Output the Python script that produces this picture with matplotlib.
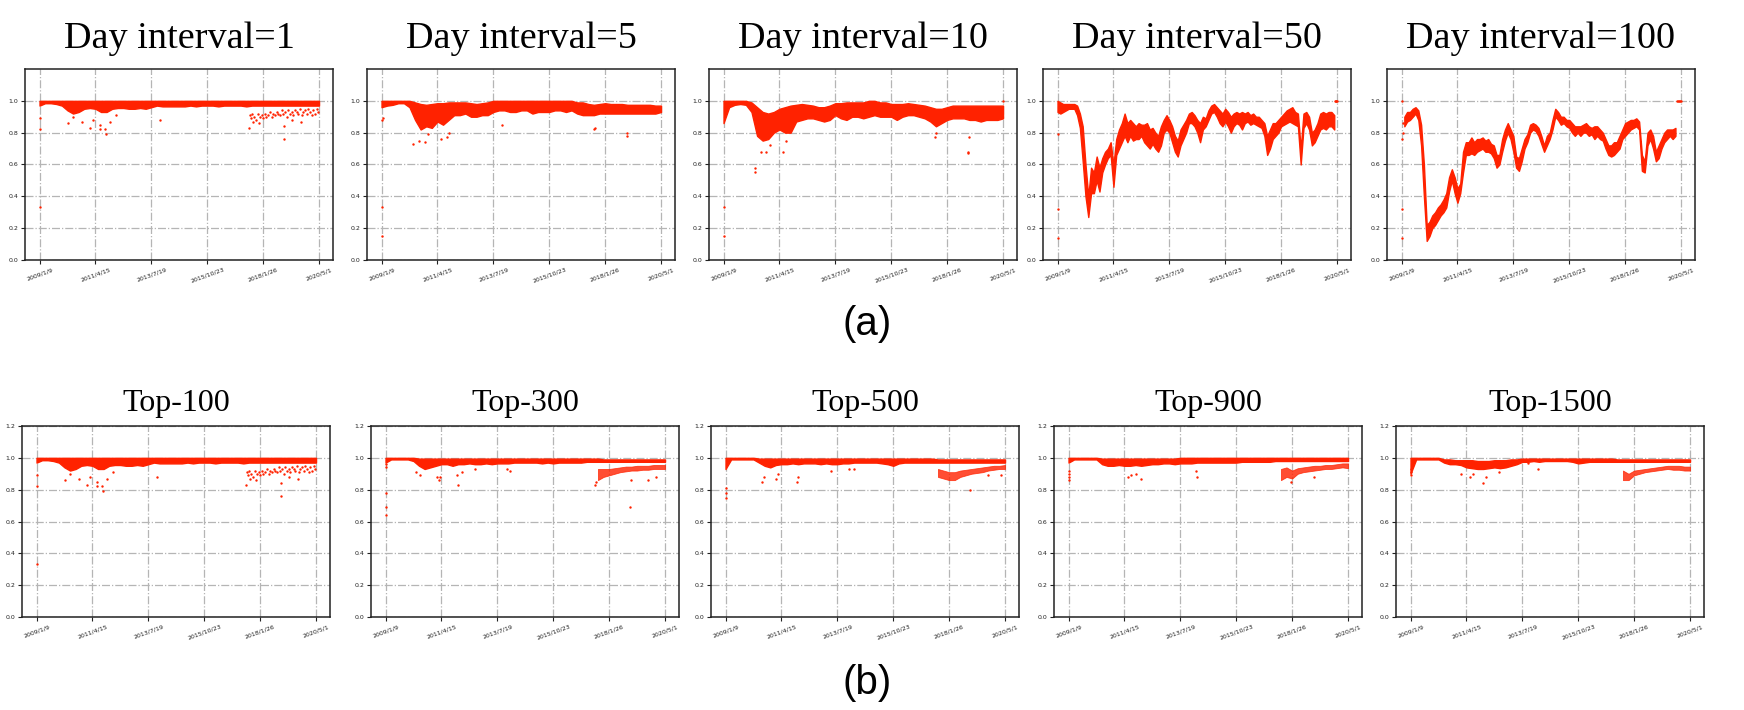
import numpy as np
import matplotlib.pyplot as plt

nan = np.nan
RED = '#ff2200'

# day index ticks and their dates
tick_pos = [0, 500, 1000, 1500, 2000, 2500]
tick_labels = ['2009/1/9', '2011/4/15', '2013/7/19', '2015/10/23', '2018/1/26', '2020/5/1']

x50 = np.arange(0, 2501, 50)
x25 = np.arange(0, 2501, 25)
cluster_x = np.arange(1900, 2501, 50)

# ---- Day interval=1 (also Top-100) ----
di1_hi = [1.0, 1.0, 1.0, 1.0, 1.0, 1.0, 1.0, 1.0, 1.0, 1.0,
          1.0, 1.0, 1.0, 1.0, 1.0, 1.0, 1.0, 1.0, 1.0, 1.0,
          1.0, 1.0, 1.0, 1.0, 1.0, 1.0, 1.0, 1.0, 1.0, 1.0,
          1.0, 1.0, 1.0, 1.0, 1.0, 1.0, 1.0, 1.0, 1.0, 1.0,
          1.0, 1.0, 1.0, 1.0, 1.0, 1.0, 1.0, 1.0, 1.0, 1.0,
          1.0]
di1_lo = [0.97, 0.985, 0.985, 0.98, 0.97, 0.94, 0.92, 0.93, 0.95, 0.955,
          0.95, 0.93, 0.93, 0.95, 0.955, 0.955, 0.95, 0.95, 0.955, 0.95,
          0.96, 0.97, 0.965, 0.965, 0.965, 0.965, 0.965, 0.97, 0.965, 0.97,
          0.97, 0.97, 0.965, 0.97, 0.97, 0.97, 0.97, 0.965, 0.97, 0.97,
          0.97, 0.97, 0.97, 0.97, 0.97, 0.97, 0.97, 0.97, 0.97, 0.97,
          0.97]
di1_px = [0, 0, 0, 256, 300, 380, 449, 479, 538, 538, 583, 592, 627, 681, 1082,
          1876, 2188, 2188, 2262, 2337,
          1880, 1890, 1900, 1910, 1920, 1935, 1950, 1960, 1975, 1990,
          2000, 2015, 2030, 2045, 2060, 2075, 2090, 2105, 2120, 2135,
          2150, 2165, 2180, 2195, 2210, 2225, 2240, 2255, 2270, 2285,
          2300, 2315, 2330, 2345, 2360, 2375, 2390, 2405, 2420, 2435,
          2450, 2465, 2480, 2495]
di1_py = [0.89, 0.82, 0.33, 0.86, 0.90, 0.87, 0.83, 0.88, 0.85, 0.82, 0.82, 0.79, 0.87, 0.91, 0.88,
          0.83, 0.84, 0.76, 0.88, 0.87,
          0.91, 0.89, 0.92, 0.87, 0.90, 0.88, 0.92, 0.86, 0.90, 0.91,
          0.89, 0.92, 0.90, 0.91, 0.93, 0.90, 0.92, 0.91, 0.93, 0.92,
          0.91, 0.94, 0.92, 0.93, 0.90, 0.94, 0.92, 0.93, 0.91, 0.94,
          0.93, 0.92, 0.95, 0.91, 0.93, 0.94, 0.92, 0.95, 0.93, 0.91,
          0.94, 0.92, 0.95, 0.93]

# ---- Day interval=5 ----
di5_hi = [1.0, 1.0, 1.0, 1.0, 1.0, 1.0, 0.99, 0.98, 0.975, 0.98,
          0.985, 0.985, 0.99, 0.99, 0.99, 0.99, 0.985, 0.98, 0.985, 0.99,
          1.0, 1.0, 1.0, 1.0, 1.0, 1.0, 1.0, 1.0, 1.0, 1.0,
          1.0, 1.0, 1.0, 1.0, 1.0, 0.99, 0.99, 0.98, 0.975, 0.98,
          0.985, 0.98, 0.98, 0.98, 0.975, 0.975, 0.975, 0.975, 0.975, 0.97,
          0.97]
di5_lo = [0.96, 0.97, 0.975, 0.985, 0.985, 0.96, 0.88, 0.82, 0.84, 0.83,
          0.87, 0.85, 0.88, 0.91, 0.91, 0.92, 0.90, 0.90, 0.91, 0.91,
          0.93, 0.94, 0.94, 0.93, 0.93, 0.94, 0.94, 0.92, 0.93, 0.93,
          0.93, 0.94, 0.94, 0.93, 0.94, 0.92, 0.91, 0.91, 0.91, 0.92,
          0.92, 0.92, 0.92, 0.92, 0.92, 0.92, 0.92, 0.92, 0.92, 0.92,
          0.93]
di5_px = [0, 0, 5, 10, 283, 333, 387, 420, 536, 589, 600, 1080, 1899, 1905, 2193, 2193]
di5_py = [0.33, 0.15, 0.88, 0.89, 0.73, 0.75, 0.74, 0.79, 0.76, 0.77, 0.80, 0.85, 0.82, 0.83, 0.78, 0.80]

# ---- Day interval=10 ----
di10_hi = [1.0, 1.0, 1.0, 1.0, 1.0, 0.99, 0.96, 0.93, 0.92, 0.93,
           0.95, 0.96, 0.97, 0.975, 0.98, 0.975, 0.97, 0.96, 0.96, 0.97,
           0.985, 0.985, 0.99, 0.99, 0.99, 0.99, 1.0, 1.0, 0.99, 0.99,
           0.98, 0.98, 0.98, 0.985, 0.98, 0.975, 0.97, 0.96, 0.95, 0.95,
           0.96, 0.97, 0.97, 0.97, 0.97, 0.97, 0.97, 0.97, 0.97, 0.97,
           0.97]
di10_lo = [0.86, 0.96, 0.975, 0.98, 0.975, 0.93, 0.78, 0.75, 0.76, 0.80,
           0.82, 0.80, 0.80, 0.87, 0.88, 0.89, 0.89, 0.88, 0.87, 0.88,
           0.91, 0.89, 0.88, 0.90, 0.90, 0.89, 0.90, 0.91, 0.90, 0.90,
           0.90, 0.88, 0.90, 0.91, 0.91, 0.90, 0.89, 0.87, 0.84, 0.86,
           0.88, 0.89, 0.89, 0.89, 0.88, 0.88, 0.87, 0.88, 0.88, 0.88,
           0.89]
di10_px = [0, 0, 277, 280, 333, 381, 420, 536, 560, 1893, 1900, 2188, 2190, 2195, 2500]
di10_py = [0.33, 0.15, 0.55, 0.58, 0.68, 0.68, 0.72, 0.68, 0.75, 0.77, 0.80, 0.67, 0.68, 0.77, 1.0]

# ---- Day interval=50 (25-day samples) ----
di50_hi = [1.0, 0.99, 0.98, 0.98, 0.98, 0.98, 0.98, 0.97, 0.92, 0.84,
           0.60, 0.40, 0.58, 0.55, 0.65, 0.58, 0.64, 0.68, 0.70, 0.74,
           0.60, 0.76, 0.82, 0.86, 0.92, 0.86, 0.88, 0.86, 0.84, 0.86,
           0.85, 0.85, 0.86, 0.82, 0.83, 0.80, 0.78, 0.84, 0.88, 0.91,
           0.88, 0.84, 0.78, 0.75, 0.82, 0.85, 0.88, 0.92, 0.93, 0.91,
           0.88, 0.86, 0.90, 0.89, 0.94, 0.97, 0.98, 0.96, 0.94, 0.92,
           0.95, 0.93, 0.90, 0.92, 0.93, 0.92, 0.93, 0.92, 0.93, 0.91,
           0.92, 0.90, 0.90, 0.88, 0.86, 0.78, 0.82, 0.86, 0.86, 0.88,
           0.90, 0.92, 0.94, 0.95, 0.96, 0.93, 0.92, 0.70, 0.92, 0.93,
           0.90, 0.80, 0.82, 0.86, 0.92, 0.93, 0.92, 0.93, 0.93, 0.91,
           nan]
di50_lo = [0.93, 0.92, 0.93, 0.94, 0.95, 0.95, 0.95, 0.91, 0.83, 0.62,
           0.40, 0.27, 0.42, 0.42, 0.50, 0.43, 0.55, 0.60, 0.64, 0.66,
           0.46, 0.66, 0.70, 0.74, 0.78, 0.74, 0.78, 0.75, 0.76, 0.76,
           0.78, 0.74, 0.72, 0.70, 0.73, 0.70, 0.68, 0.72, 0.80, 0.82,
           0.80, 0.74, 0.68, 0.65, 0.72, 0.76, 0.80, 0.86, 0.86, 0.84,
           0.80, 0.74, 0.82, 0.84, 0.88, 0.92, 0.93, 0.90, 0.86, 0.84,
           0.87, 0.84, 0.80, 0.84, 0.86, 0.85, 0.82, 0.86, 0.87, 0.85,
           0.86, 0.85, 0.84, 0.83, 0.78, 0.66, 0.70, 0.76, 0.78, 0.80,
           0.84, 0.85, 0.86, 0.87, 0.86, 0.85, 0.84, 0.60, 0.83, 0.86,
           0.82, 0.72, 0.74, 0.78, 0.82, 0.83, 0.82, 0.84, 0.84, 0.82,
           nan]
di50_px = [0, 0, 0, 2485, 2490, 2495, 2500]
di50_py = [0.79, 0.32, 0.14, 1.0, 1.0, 1.0, 1.0]

# ---- Day interval=100 (25-day samples) ----
di100_hi = [nan, 0.90, 0.93, 0.93, 0.95, 0.96, 0.94, 0.85, 0.60, 0.22,
            0.24, 0.28, 0.30, 0.33, 0.35, 0.38, 0.42, 0.52, 0.57, 0.52,
            0.45, 0.48, 0.68, 0.74, 0.74, 0.77, 0.74, 0.76, 0.76, 0.77,
            0.75, 0.76, 0.73, 0.72, 0.66, 0.66, 0.76, 0.82, 0.86, 0.82,
            0.78, 0.65, 0.64, 0.70, 0.76, 0.79, 0.85, 0.86, 0.85, 0.83,
            0.78, 0.72, 0.78, 0.80, 0.88, 0.95, 0.93, 0.90, 0.90, 0.88,
            0.88, 0.86, 0.84, 0.84, 0.84, 0.85, 0.86, 0.84, 0.83, 0.84,
            0.84, 0.82, 0.80, 0.76, 0.72, 0.72, 0.74, 0.74, 0.78, 0.82,
            0.86, 0.87, 0.88, 0.88, 0.89, 0.87, 0.66, 0.62, 0.80, 0.82,
            0.78, 0.68, 0.72, 0.76, 0.80, 0.82, 0.82, 0.82, 0.83, nan,
            nan]
di100_lo = [nan, 0.84, 0.87, 0.88, 0.90, 0.92, 0.88, 0.72, 0.40, 0.12,
            0.15, 0.20, 0.22, 0.25, 0.28, 0.30, 0.33, 0.43, 0.50, 0.42,
            0.36, 0.42, 0.55, 0.66, 0.66, 0.67, 0.66, 0.68, 0.69, 0.70,
            0.68, 0.68, 0.67, 0.64, 0.58, 0.60, 0.68, 0.75, 0.80, 0.76,
            0.68, 0.58, 0.56, 0.62, 0.70, 0.74, 0.80, 0.82, 0.81, 0.78,
            0.73, 0.68, 0.72, 0.76, 0.82, 0.90, 0.88, 0.85, 0.86, 0.84,
            0.83, 0.80, 0.78, 0.80, 0.78, 0.80, 0.80, 0.78, 0.79, 0.76,
            0.78, 0.76, 0.75, 0.70, 0.66, 0.65, 0.66, 0.68, 0.70, 0.76,
            0.78, 0.80, 0.82, 0.83, 0.84, 0.82, 0.56, 0.55, 0.72, 0.76,
            0.70, 0.62, 0.64, 0.70, 0.74, 0.76, 0.78, 0.76, 0.78, nan,
            nan]
di100_px = [0, 0, 0, 5, 10, 15, 2460, 2470, 2480, 2490, 2500]
di100_py = [1.0, 0.32, 0.14, 0.76, 0.80, 0.86, 1.0, 1.0, 1.0, 1.0, 1.0]

# ---- Top-300 ----
top300_hi = [1.0, 1.0, 1.0, 1.0, 1.0, 1.0, 0.995, 0.995, 0.995, 0.995,
             0.995, 0.995, 0.995, 0.995, 0.995, 0.995, 0.995, 0.995, 0.995, 0.995,
             0.995, 0.995, 0.995, 0.995, 0.995, 0.995, 0.995, 0.995, 0.995, 0.995,
             0.995, 0.995, 0.995, 0.995, 0.995, 0.995, 0.995, 0.995, 0.995, 0.99,
             0.99, 0.99, 0.99, 0.99, 0.99, 0.99, 0.99, 0.99, 0.99, 0.99,
             0.99]
top300_lo = [0.97, 0.99, 0.99, 0.99, 0.99, 0.98, 0.95, 0.93, 0.94, 0.95,
             0.96, 0.96, 0.95, 0.96, 0.96, 0.965, 0.96, 0.96, 0.965, 0.96,
             0.965, 0.965, 0.965, 0.97, 0.97, 0.97, 0.97, 0.97, 0.965, 0.97,
             0.965, 0.97, 0.97, 0.97, 0.97, 0.97, 0.975, 0.975, 0.975, 0.975,
             0.975, 0.975, 0.975, 0.975, 0.975, 0.975, 0.975, 0.975, 0.975, 0.975,
             0.975]
top300_clo = [0.86, 0.88, 0.89, 0.90, 0.91, 0.915, 0.92, 0.92, 0.925, 0.925, 0.93, 0.93, 0.93]
top300_chi = [0.93, 0.93, 0.93, 0.935, 0.94, 0.945, 0.945, 0.95, 0.95, 0.95, 0.955, 0.955, 0.955]
top300_px = [0, 0, 0, 5, 5, 270, 312, 461, 476, 490, 640, 645, 685, 800, 1090, 1110,
             1875, 1880, 2187, 2193, 2350, 2420]
top300_py = [0.64, 0.69, 0.78, 0.94, 0.96, 0.91, 0.89, 0.88, 0.86, 0.88, 0.89, 0.83, 0.91, 0.93, 0.93, 0.92,
             0.83, 0.85, 0.69, 0.86, 0.86, 0.88]

# ---- Top-500 ----
top500_hi = [1.0, 1.0, 1.0, 1.0, 1.0, 1.0, 0.995, 0.995, 0.995, 0.995,
             0.995, 0.995, 0.995, 0.995, 0.995, 0.995, 0.995, 0.995, 0.995, 0.995,
             0.995, 0.995, 0.995, 0.995, 0.995, 0.995, 0.995, 0.995, 0.995, 0.995,
             0.995, 0.995, 0.995, 0.995, 0.995, 0.995, 0.995, 0.995, 0.99, 0.99,
             0.99, 0.99, 0.99, 0.99, 0.99, 0.99, 0.99, 0.99, 0.99, 0.99,
             0.99]
top500_lo = [0.93, 0.99, 0.99, 0.99, 0.99, 0.99, 0.97, 0.95, 0.94, 0.955,
             0.96, 0.96, 0.965, 0.96, 0.965, 0.965, 0.965, 0.96, 0.965, 0.96,
             0.96, 0.965, 0.965, 0.97, 0.97, 0.97, 0.97, 0.97, 0.965, 0.96,
             0.95, 0.965, 0.97, 0.97, 0.97, 0.97, 0.97, 0.97, 0.97, 0.97,
             0.97, 0.97, 0.97, 0.97, 0.97, 0.97, 0.97, 0.97, 0.97, 0.97,
             0.97]
top500_clo = [0.88, 0.87, 0.86, 0.86, 0.88, 0.89, 0.90, 0.905, 0.91, 0.92, 0.925, 0.93, 0.93]
top500_chi = [0.93, 0.92, 0.91, 0.91, 0.92, 0.925, 0.93, 0.935, 0.94, 0.945, 0.95, 0.95, 0.955]
top500_px = [0, 0, 0, 330, 340, 447, 470, 642, 650, 943, 1100, 1150, 2191, 2344, 2465]
top500_py = [0.81, 0.78, 0.75, 0.85, 0.88, 0.87, 0.90, 0.85, 0.88, 0.92, 0.93, 0.93, 0.80, 0.89, 0.89]

# ---- Top-900 ----
top900_hi = [1.0, 1.0, 1.0, 1.0, 1.0, 1.0, 0.995, 0.995, 0.995, 0.995,
             0.995, 0.995, 0.995, 0.995, 0.995, 0.995, 0.995, 0.995, 0.995, 0.995,
             1.0, 1.0, 1.0, 1.0, 1.0, 1.0, 1.0, 1.0, 1.0, 1.0,
             1.0, 1.0, 1.0, 1.0, 1.0, 1.0, 1.0, 1.0, 1.0, 1.0,
             1.0, 1.0, 1.0, 1.0, 1.0, 1.0, 1.0, 1.0, 1.0, 1.0,
             1.0]
top900_lo = [0.97, 0.99, 0.99, 0.99, 0.99, 0.99, 0.96, 0.95, 0.95, 0.955,
             0.95, 0.95, 0.955, 0.95, 0.955, 0.96, 0.96, 0.965, 0.965, 0.96,
             0.965, 0.965, 0.965, 0.97, 0.97, 0.97, 0.97, 0.97, 0.97, 0.97,
             0.97, 0.975, 0.975, 0.975, 0.975, 0.975, 0.975, 0.98, 0.98, 0.98,
             0.98, 0.98, 0.98, 0.98, 0.98, 0.98, 0.98, 0.98, 0.98, 0.98,
             0.98]
top900_clo = [0.86, 0.88, 0.87, 0.90, 0.91, 0.915, 0.92, 0.925, 0.93, 0.93, 0.935, 0.94, 0.935]
top900_chi = [0.93, 0.94, 0.92, 0.935, 0.94, 0.945, 0.95, 0.95, 0.955, 0.955, 0.96, 0.965, 0.965]
top900_px = [0, 0, 0, 0, 532, 557, 600, 649, 1142, 1149, 1990, 2195]
top900_py = [0.86, 0.88, 0.90, 0.92, 0.88, 0.89, 0.90, 0.87, 0.92, 0.88, 0.85, 0.88]

# ---- Top-1500 ----
top1500_hi = [1.0, 1.0, 1.0, 1.0, 1.0, 1.0, 0.99, 0.99, 0.985, 0.985,
              0.985, 0.985, 0.98, 0.98, 0.98, 0.985, 0.985, 0.985, 0.99, 0.99,
              0.995, 0.995, 0.995, 0.995, 0.995, 0.995, 0.995, 0.995, 0.995, 0.995,
              0.995, 0.995, 0.995, 0.995, 0.995, 0.995, 0.995, 0.99, 0.99, 0.99,
              0.99, 0.99, 0.99, 0.99, 0.99, 0.99, 0.99, 0.99, 0.99, 0.99,
              0.99]
top1500_lo = [0.90, 0.99, 0.99, 0.99, 0.99, 0.99, 0.97, 0.96, 0.96, 0.955,
              0.94, 0.935, 0.93, 0.93, 0.935, 0.94, 0.935, 0.94, 0.95, 0.96,
              0.975, 0.975, 0.98, 0.975, 0.98, 0.98, 0.98, 0.98, 0.98, 0.975,
              0.965, 0.97, 0.975, 0.975, 0.975, 0.975, 0.975, 0.975, 0.975, 0.975,
              0.975, 0.975, 0.975, 0.975, 0.975, 0.975, 0.975, 0.975, 0.975, 0.975,
              0.975]
top1500_clo = [0.86, 0.86, 0.89, 0.90, 0.91, 0.915, 0.92, 0.925, 0.93, 0.925, 0.925, 0.92, 0.92]
top1500_chi = [0.92, 0.90, 0.92, 0.925, 0.93, 0.935, 0.94, 0.945, 0.95, 0.95, 0.95, 0.945, 0.945]
top1500_px = [0, 0, 0, 453, 533, 560, 644, 675, 787, 1055, 1144]
top1500_py = [0.93, 0.91, 0.89, 0.90, 0.88, 0.90, 0.84, 0.88, 0.91, 0.965, 0.93]

top_titles = ['Day interval=1', 'Day interval=5', 'Day interval=10', 'Day interval=50', 'Day interval=100']
bottom_titles = ['Top-100', 'Top-300', 'Top-500', 'Top-900', 'Top-1500']

top_data = [
    (x50, di1_lo, di1_hi, di1_px, di1_py, None, None),
    (x50, di5_lo, di5_hi, di5_px, di5_py, None, None),
    (x50, di10_lo, di10_hi, di10_px, di10_py, None, None),
    (x25, di50_lo, di50_hi, di50_px, di50_py, None, None),
    (x25, di100_lo, di100_hi, di100_px, di100_py, None, None),
]
bottom_data = [
    (x50, di1_lo, di1_hi, di1_px, di1_py, None, None),  # Top-100 matches interval=1
    (x50, top300_lo, top300_hi, top300_px, top300_py, top300_clo, top300_chi),
    (x50, top500_lo, top500_hi, top500_px, top500_py, top500_clo, top500_chi),
    (x50, top900_lo, top900_hi, top900_px, top900_py, top900_clo, top900_chi),
    (x50, top1500_lo, top1500_hi, top1500_px, top1500_py, top1500_clo, top1500_chi),
]

W, H = 1744, 710
fig = plt.figure(figsize=(W / 100, H / 100), dpi=100)

top_left = [25, 367, 709, 1043, 1387]
bot_left = [22, 371, 711, 1054, 1396]
axw = 308


def panel(left_px, top_px, bottom_px, title, tsize, tpad, d, ymax, yticks):
    ax = fig.add_axes([left_px / W, 1 - bottom_px / H, axw / W, (bottom_px - top_px) / H])
    xs, lo, hi, px, py, clo, chi = d
    ax.fill_between(xs, lo, hi, color=RED, edgecolor=RED, lw=1.0, zorder=3)
    if clo is not None:
        ax.fill_between(cluster_x, clo, chi, color=RED, edgecolor=RED, alpha=0.8, lw=0.6, zorder=3)
    ax.scatter(px, py, s=3, color=RED, marker='o', linewidths=0, zorder=3)
    ax.set_xlim(-130, 2625)
    ax.set_ylim(0, ymax)
    ax.set_xticks(tick_pos)
    ax.set_xticklabels(tick_labels, rotation=20, ha='center')
    ax.set_yticks(yticks)
    ax.tick_params(labelsize=4.5, length=3, width=0.8, pad=2, colors='#222222')
    ax.grid(True, linestyle='-.', color='#b5b5b5', lw=0.9)
    ax.set_axisbelow(True)
    for s in ax.spines.values():
        s.set_linewidth(1.1)
        s.set_color('#222222')
    ax.set_title(title, fontsize=tsize, family='Liberation Serif', pad=tpad)
    return ax


for i in range(5):
    panel(top_left[i], 69, 260, top_titles[i], 27.5, 15, top_data[i], 1.2,
          [0.0, 0.2, 0.4, 0.6, 0.8, 1.0])
    panel(bot_left[i], 426, 617, bottom_titles[i], 23, 11, bottom_data[i], 1.2,
          [0.0, 0.2, 0.4, 0.6, 0.8, 1.0, 1.2])

fig.text(0.497, 1 - 324 / H, '(a)', fontsize=29, family='Liberation Sans', ha='center', va='center')
fig.text(0.497, 1 - 683 / H, '(b)', fontsize=29, family='Liberation Sans', ha='center', va='center')

fig.savefig('out.png', dpi=100)
